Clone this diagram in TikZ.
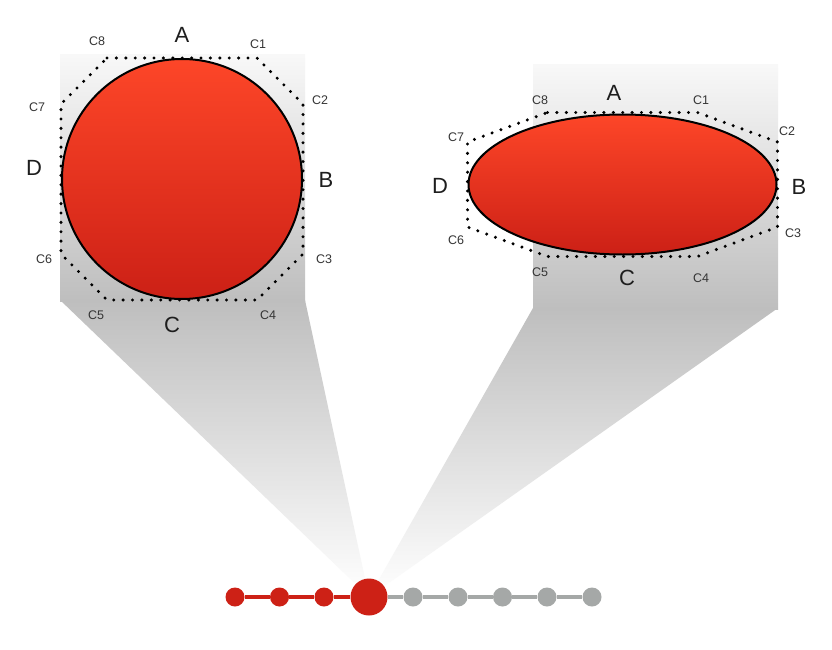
\documentclass[tikz,border=0pt]{standalone}
\usepackage{fontspec}
\setmainfont{Liberation Sans}
\usetikzlibrary{shapes.geometric}
\definecolor{redtop}{HTML}{FD4628}
\definecolor{redbot}{HTML}{CC2016}
\definecolor{dotred}{HTML}{CD2116}
\definecolor{dotgray}{HTML}{A5A8A7}
\definecolor{paneltop}{HTML}{F8F8F8}
\definecolor{panelbot}{HTML}{BEBEBE}
\definecolor{labelcol}{HTML}{1E1E1E}
\begin{document}
\begin{tikzpicture}[x=1pt,y=-1pt,
  panel/.style={top color=paneltop,bottom color=panelbot,draw=none},
  fan/.style={top color=panelbot,bottom color=white,draw=none},
  biglab/.style={font=\fontsize{22}{22}\selectfont,text=labelcol,inner sep=0pt},
  smalllab/.style={font=\fontsize{12.5}{13}\selectfont,text=labelcol!90,inner sep=0pt},
  octo/.style={line width=3.4pt,line cap=round,dash pattern=on 0pt off 9.4pt},
  redshape/.style={draw=black,line width=2pt,top color=redtop,bottom color=redbot,inner sep=0pt},
  sdot/.style={circle,minimum size=19pt,inner sep=0pt,fill=#1},
  bdot/.style={circle,minimum size=37pt,inner sep=0pt,fill=dotred},
  link/.style={line width=3.6pt,draw=#1}
]
\useasboundingbox[fill=white] (0,0) rectangle (832,650);

% fans
\shade[fan] (60,300) -- (305,300) -- (369,597) -- cycle;
\shade[fan] (533,308) -- (778,308) -- (369,597) -- cycle;
% panels
\shade[panel] (60,55) rectangle (305,301);
\shade[panel] (533,65) rectangle (778,309);

% shapes
\node[circle,redshape,minimum size=240pt] (circ) at (182,179) {};
\node[ellipse,redshape,minimum width=308pt,minimum height=140pt] (ell) at (622.5,184.5) {};

% octagons
\draw[octo] (107,58) -- (257,58) -- (303,104) -- (303,254) -- (257,300) -- (107,300) -- (61,254) -- (61,104) -- cycle;
\draw[octo] (547.5,112.5) -- (697.5,112.5) -- (777.5,142) -- (777.5,227) -- (697.5,256.5) -- (547.5,256.5) -- (467.5,227) -- (467.5,142) -- cycle;

% labels left
\node[biglab] (lA) at (182,35) {A};
\node[biglab] (lB) at (326,180) {B};
\node[biglab] (lC) at (172,325) {C};
\node[biglab] (lD) at (34,168) {D};
\node[smalllab] (l1) at (258,44) {C1};
\node[smalllab] (l2) at (320,100) {C2};
\node[smalllab] (l3) at (324,259) {C3};
\node[smalllab] (l4) at (268,315) {C4};
\node[smalllab] (l5) at (96,315) {C5};
\node[smalllab] (l6) at (44,259) {C6};
\node[smalllab] (l7) at (37,107) {C7};
\node[smalllab] (l8) at (97,41) {C8};

% labels right
\node[biglab] (rA) at (614,93) {A};
\node[biglab] (rB) at (799,187) {B};
\node[biglab] (rC) at (627,278) {C};
\node[biglab] (rD) at (440,186) {D};
\node[smalllab] (r1) at (701,100) {C1};
\node[smalllab] (r2) at (787,131) {C2};
\node[smalllab] (r3) at (793,233) {C3};
\node[smalllab] (r4) at (701,278) {C4};
\node[smalllab] (r5) at (540,272) {C5};
\node[smalllab] (r6) at (456,240) {C6};
\node[smalllab] (r7) at (456,137) {C7};
\node[smalllab] (r8) at (540,100) {C8};

% timeline
\node[sdot=dotred] (d1) at (235,597) {};
\node[sdot=dotred] (d2) at (279.5,597) {};
\node[sdot=dotred] (d3) at (324,597) {};
\node[bdot] (big) at (369,597) {};
\node[sdot=dotgray] (g1) at (413,597) {};
\node[sdot=dotgray] (g2) at (458,597) {};
\node[sdot=dotgray] (g3) at (502.5,597) {};
\node[sdot=dotgray] (g4) at (547,597) {};
\node[sdot=dotgray] (g5) at (592,597) {};
\draw[link=dotred] (d1) -- (d2) -- (d3) -- (big);
\draw[link=dotgray] (big) -- (g1) -- (g2) -- (g3) -- (g4) -- (g5);
\end{tikzpicture}
\end{document}
